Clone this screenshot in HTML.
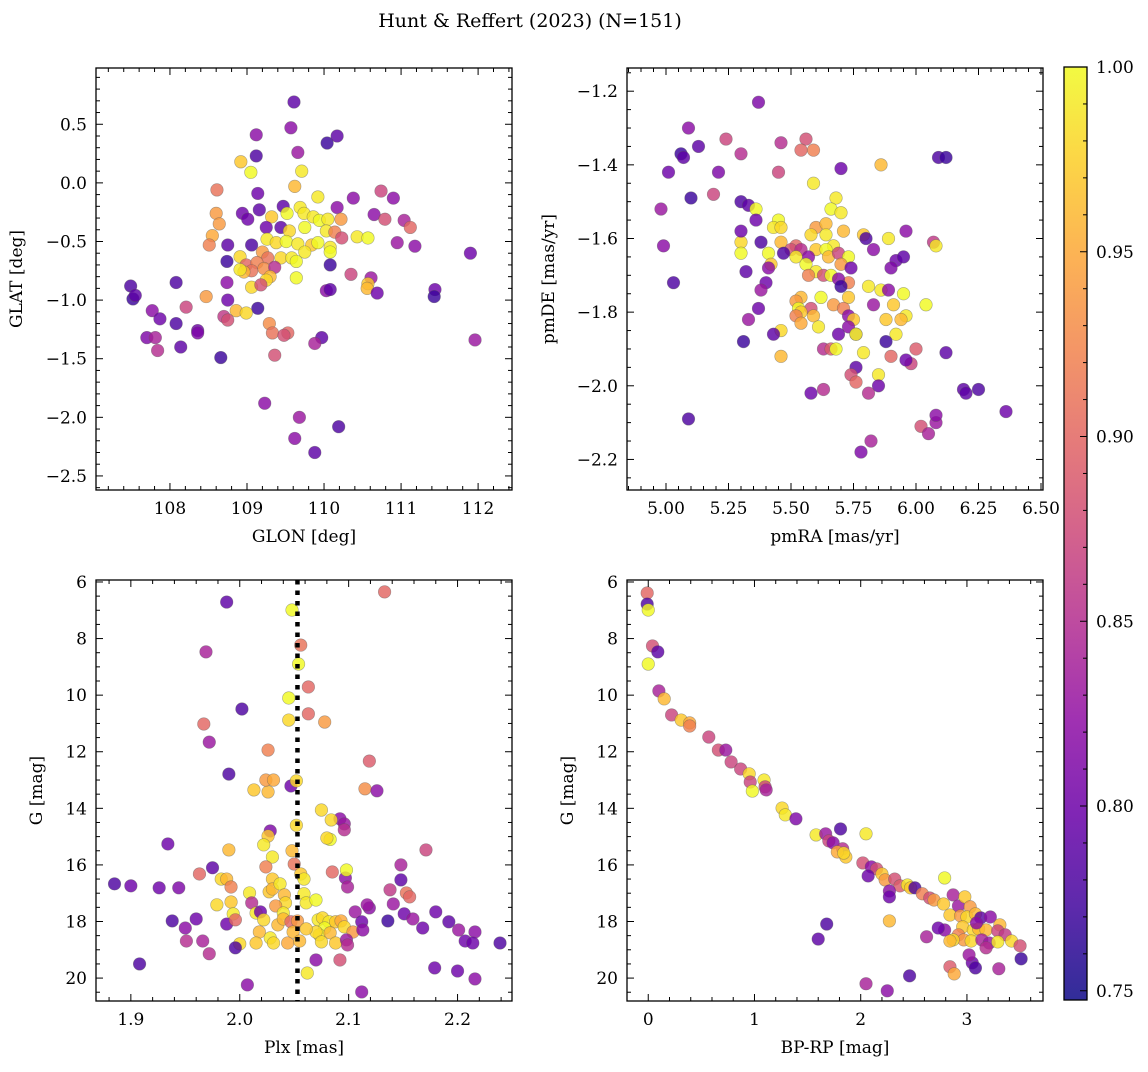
<!DOCTYPE html>
<html><head><meta charset="utf-8"><style>
body{margin:0;background:#fff}
svg text{font-family:"DejaVu Serif","Liberation Serif",serif;fill:#000}
</style></head><body>
<svg id="chart" width="1148" height="1067" xmlns="http://www.w3.org/2000/svg">
<text x="530" y="27" font-size="19" text-anchor="middle">Hunt &amp; Reffert (2023) (N=151)</text>
</svg>
<script>
// Panel 1: GLON vs GLAT
const glonVals=[109.61,109.12,109.57,109.66,110.04,110.17,108.92,109.12,109.71,108.61,109.05,110.74,109.62,109.14,109.92,110.38,110.9,110.17,109.69,109.47,109.74,109.52,109.16,108.94,108.6,109.32,109.01,109.86,109.94,110.05,110.22,110.65,110.79,111.04,111.12,108.64,109.25,109.44,109.55,109.75,110.03,110.14,110.43,110.57,108.55,108.51,108.75,109.06,109.26,109.38,109.51,109.66,109.84,109.92,110.08,110.23,110.95,111.18,109.75,110.08,109.2,108.91,109.27,109.44,109.58,109.64,108.74,108.99,109.13,109.22,109.36,109.06,108.96,108.91,110.08,110.35,110.61,109.64,109.3,109.25,108.74,108.08,110.57,110.56,109.06,109.18,107.49,107.52,107.55,108.47,110.03,110.08,110.69,111.44,111.43,108.75,109.14,108.21,108.86,108.99,107.77,108.7,108.75,107.87,108.08,109.29,109.33,108.36,108.36,109.53,109.48,107.7,107.81,109.97,109.88,108.14,107.84,109.36,108.66,111.96,111.9,109.23,109.68,109.62,110.19,109.88];
const glatVals=[0.69,0.41,0.47,0.26,0.34,0.40,0.18,0.23,0.10,-0.06,0.09,-0.07,-0.03,-0.09,-0.12,-0.13,-0.13,-0.21,-0.21,-0.2,-0.26,-0.26,-0.23,-0.26,-0.26,-0.29,-0.31,-0.29,-0.32,-0.31,-0.31,-0.27,-0.31,-0.32,-0.38,-0.35,-0.38,-0.38,-0.41,-0.38,-0.41,-0.42,-0.46,-0.47,-0.45,-0.53,-0.53,-0.53,-0.48,-0.51,-0.5,-0.52,-0.53,-0.51,-0.55,-0.47,-0.51,-0.54,-0.59,-0.59,-0.59,-0.63,-0.64,-0.64,-0.64,-0.67,-0.67,-0.7,-0.68,-0.73,-0.72,-0.75,-0.76,-0.74,-0.7,-0.78,-0.81,-0.81,-0.8,-0.83,-0.85,-0.85,-0.86,-0.9,-0.89,-0.87,-0.88,-0.99,-0.96,-0.97,-0.92,-0.91,-0.94,-0.91,-0.97,-1.0,-1.07,-1.06,-1.09,-1.11,-1.09,-1.14,-1.17,-1.16,-1.2,-1.2,-1.28,-1.26,-1.28,-1.28,-1.3,-1.32,-1.32,-1.32,-1.37,-1.4,-1.43,-1.47,-1.49,-1.34,-0.6,-1.88,-2.0,-2.18,-2.08,-2.3];
const prob1=[0.79,0.82,0.82,0.83,0.77,0.79,0.97,0.78,0.99,0.91,1.0,0.87,0.96,0.8,0.99,0.82,0.82,0.82,0.99,0.79,0.99,1.0,0.79,0.8,0.94,0.97,0.8,0.99,1.0,0.99,0.94,0.82,0.88,0.84,0.9,0.94,0.8,0.79,0.98,1.0,0.99,0.92,0.99,1.0,0.95,0.92,0.79,0.78,0.99,0.98,1.0,0.99,0.97,1.0,0.99,0.88,0.83,0.82,0.99,1.0,0.94,0.98,0.91,0.98,0.99,1.0,0.77,0.9,0.92,0.93,0.85,0.91,0.96,0.99,0.77,0.87,0.83,1.0,0.96,0.98,0.82,0.78,0.97,0.96,0.98,0.88,0.78,0.77,0.79,0.94,0.82,0.79,0.8,0.8,0.77,0.8,0.77,0.87,0.96,0.98,0.82,0.86,0.88,0.8,0.78,0.93,0.91,0.8,0.81,0.9,0.88,0.81,0.84,0.79,0.84,0.79,0.85,0.88,0.77,0.83,0.8,0.82,0.83,0.82,0.78,0.79];
// Panel 2: pmRA vs pmDE
const pmraVals=[5.37,5.09,5.06,5.07,5.13,5.24,5.3,5.56,5.54,5.01,5.21,5.46,5.45,5.59,5.86,5.7,5.1,5.19,6.09,6.12,4.98,5.3,5.33,5.36,5.68,5.66,5.7,5.59,5.36,4.99,5.45,5.43,5.46,5.46,5.38,5.3,5.3,5.6,5.64,5.58,5.64,5.71,5.79,5.89,5.8,5.96,6.07,6.08,5.52,5.5,5.54,5.6,5.67,5.64,5.83,5.47,5.41,5.3,5.57,5.65,5.69,5.52,5.73,5.92,5.95,5.7,5.56,5.42,5.41,5.6,5.74,5.9,5.57,5.63,5.66,5.32,5.03,5.73,5.69,5.4,5.86,5.89,5.81,5.7,5.38,5.73,5.62,5.54,5.52,5.91,5.83,5.95,6.04,5.37,5.67,5.58,5.53,5.54,5.71,5.59,5.52,5.96,5.73,5.88,5.54,5.94,5.75,5.33,5.61,5.73,5.46,5.31,5.43,5.76,5.92,5.69,5.76,5.63,5.66,5.68,5.88,5.9,5.79,5.46,6.0,5.98,6.12,5.76,5.96,5.74,5.76,5.85,5.85,5.63,5.58,5.81,6.19,6.25,6.2,5.09,6.36,6.08,6.02,6.05,6.08,5.82,5.78];
const pmdeVals=[-1.23,-1.3,-1.37,-1.38,-1.35,-1.33,-1.37,-1.33,-1.36,-1.42,-1.42,-1.34,-1.42,-1.36,-1.4,-1.41,-1.49,-1.48,-1.38,-1.38,-1.52,-1.5,-1.51,-1.52,-1.49,-1.52,-1.53,-1.45,-1.55,-1.62,-1.55,-1.57,-1.57,-1.61,-1.61,-1.61,-1.58,-1.57,-1.56,-1.59,-1.59,-1.58,-1.59,-1.6,-1.6,-1.58,-1.61,-1.62,-1.62,-1.63,-1.63,-1.63,-1.62,-1.63,-1.63,-1.64,-1.64,-1.64,-1.65,-1.65,-1.64,-1.65,-1.65,-1.66,-1.65,-1.67,-1.67,-1.67,-1.68,-1.69,-1.68,-1.68,-1.7,-1.7,-1.7,-1.69,-1.72,-1.72,-1.71,-1.72,-1.74,-1.74,-1.73,-1.73,-1.74,-1.76,-1.76,-1.76,-1.77,-1.78,-1.78,-1.75,-1.78,-1.79,-1.78,-1.79,-1.79,-1.8,-1.79,-1.81,-1.81,-1.81,-1.81,-1.82,-1.83,-1.82,-1.82,-1.82,-1.84,-1.84,-1.85,-1.88,-1.86,-1.86,-1.86,-1.86,-1.86,-1.9,-1.9,-1.9,-1.88,-1.92,-1.91,-1.92,-1.9,-1.94,-1.91,-1.95,-1.93,-1.97,-1.99,-1.97,-2.0,-2.01,-2.02,-2.02,-2.01,-2.01,-2.02,-2.09,-2.07,-2.1,-2.11,-2.13,-2.08,-2.15,-2.18];
const prob2=[0.81,0.82,0.77,0.79,0.79,0.87,0.85,0.88,0.9,0.8,0.81,0.85,0.87,0.92,0.96,0.8,0.77,0.87,0.78,0.77,0.83,0.78,0.79,1.0,0.99,1.0,0.99,0.99,0.8,0.82,1.0,0.99,0.98,0.96,0.78,0.98,0.8,0.94,0.96,0.98,0.99,0.96,0.97,0.99,0.78,0.82,0.86,0.99,0.9,0.88,0.85,0.97,0.99,1.0,0.82,0.78,1.0,1.0,0.82,0.96,0.87,0.99,1.0,0.8,0.79,0.94,1.0,0.97,0.82,0.99,0.8,0.81,0.92,0.88,1.0,0.79,0.78,0.92,0.82,0.8,0.99,0.82,0.99,0.77,0.83,0.97,1.0,0.96,0.94,0.97,0.83,1.0,1.0,0.8,0.94,0.88,1.0,0.97,0.92,0.96,0.92,0.99,0.82,0.97,0.95,0.96,0.97,0.83,0.99,0.82,0.98,0.77,0.79,0.84,0.99,0.8,1.0,0.85,0.89,1.0,0.77,0.9,0.99,0.96,0.89,0.87,0.79,0.79,0.8,0.88,0.9,0.99,0.8,0.85,0.8,0.85,0.79,0.78,0.79,0.78,0.8,0.83,0.88,0.84,0.82,0.84,0.81];
// Panel 3: Plx vs G
const plxVals=[2.048,2.133,2.056,1.988,1.969,2.054,2.002,1.967,2.045,2.045,2.063,2.063,2.078,1.972,1.99,2.026,2.119,2.013,2.026,2.024,2.031,2.047,2.052,2.115,2.126,2.075,2.092,2.096,2.096,2.084,1.934,2.028,2.026,2.022,2.052,2.048,2.083,2.08,1.99,2.03,2.05,2.024,1.975,2.148,2.171,2.148,2.03,1.963,1.983,1.988,1.992,2.056,2.059,2.097,2.099,2.085,2.098,2.009,2.011,2.027,2.03,2.037,2.041,2.042,2.033,2.04,2.015,2.059,2.061,2.07,1.9,1.926,1.944,2.138,2.153,2.156,2.106,2.119,1.979,1.992,1.994,1.938,1.96,1.95,1.988,1.996,2.019,2.022,2.035,2.04,2.047,2.053,2.072,2.076,2.082,2.088,2.093,2.078,2.073,2.083,2.07,2.061,2.096,2.104,2.112,2.113,2.136,2.151,2.159,2.141,2.117,2.18,2.192,2.168,2.201,2.207,2.216,2.214,2.239,2.018,2.028,2.015,2.031,2.0,2.044,2.049,2.055,2.075,2.088,2.098,2.099,1.996,1.972,1.966,1.951,1.908,2.062,2.07,2.092,2.007,2.112,2.179,2.2,2.216,1.885];
const gPlx=[6.99,6.35,8.23,6.71,8.47,8.9,10.49,11.02,10.88,10.1,9.71,10.66,10.95,11.66,12.79,11.94,12.33,13.35,13.42,13.0,13.0,13.21,13.03,13.31,13.38,14.06,14.37,14.55,14.76,14.41,15.26,14.8,14.98,15.29,14.6,15.5,15.1,15.05,15.47,15.72,15.97,16.07,16.1,16.0,15.47,16.53,16.5,16.32,16.5,16.5,16.78,16.32,16.5,16.46,16.78,16.25,16.18,16.99,17.34,16.95,16.85,16.67,17.06,17.34,17.45,17.7,17.7,17.02,17.34,17.24,16.74,16.81,16.81,16.88,16.99,17.13,17.66,17.52,17.41,17.31,17.73,17.98,17.91,18.23,18.09,17.94,17.66,17.94,18.12,17.91,18.01,17.98,17.94,17.87,18.01,18.01,17.98,18.23,18.47,18.4,18.37,18.26,18.19,18.37,18.01,18.3,17.98,17.73,17.91,17.38,17.41,17.66,18.01,18.23,18.3,18.69,18.37,18.76,18.76,18.37,18.58,18.76,18.76,18.79,18.76,18.37,18.69,18.72,18.76,18.65,18.83,18.93,19.14,18.69,18.69,19.5,19.82,19.36,19.36,20.24,20.49,19.64,19.75,20.03,16.67];
const prob3=[1.0,0.9,0.91,0.79,0.84,1.0,0.78,0.9,0.98,1.0,0.9,0.9,0.94,0.83,0.78,0.92,0.89,0.97,0.96,0.94,0.95,0.8,0.98,0.93,0.82,0.98,0.82,0.83,0.85,0.98,0.8,0.81,0.97,0.99,0.98,0.96,1.0,0.98,0.96,0.99,0.91,0.92,0.79,0.84,0.87,0.79,0.97,0.9,0.98,0.96,0.92,0.97,0.99,0.82,0.84,0.9,1.0,0.99,0.85,0.97,0.96,0.99,0.96,0.98,0.94,0.99,0.99,0.99,0.99,1.0,0.8,0.8,0.81,0.86,0.91,0.9,0.83,0.82,0.98,0.97,0.99,0.78,0.8,0.82,0.8,0.9,0.8,0.98,0.96,0.96,0.9,0.94,0.99,0.98,0.99,0.97,0.95,1.0,0.99,0.96,0.98,0.97,0.98,0.94,0.8,0.82,0.77,0.8,0.83,0.83,0.83,0.8,0.79,0.8,0.83,0.8,0.82,0.8,0.78,0.96,0.99,0.97,0.98,0.98,0.95,0.96,0.96,0.98,0.97,0.83,0.85,0.78,0.85,0.84,0.85,0.78,0.99,0.82,0.88,0.82,0.82,0.8,0.8,0.82,0.78];
const plxRef=2.053;
// Panel 4: BP-RP vs G
const bprpVals=[-0.01,-0.01,0.0,0.04,0.09,0.0,0.1,0.15,0.22,0.31,0.39,0.39,0.57,0.66,0.73,0.78,0.87,0.95,0.96,0.98,1.09,1.1,1.11,1.26,1.29,1.39,1.58,1.67,1.81,2.05,1.7,1.74,1.83,1.86,1.78,1.84,2.02,2.1,2.15,2.2,2.23,2.32,2.37,2.44,2.47,2.51,2.58,2.65,2.69,2.78,2.79,2.87,2.92,2.98,3.03,2.84,2.94,3.0,3.08,3.13,3.22,3.31,2.96,3.06,3.11,3.18,3.29,3.36,3.42,3.5,2.92,2.97,3.04,3.14,3.21,3.29,2.87,2.79,2.73,3.09,3.51,3.05,2.84,3.3,2.88,3.08,3.02,3.18,2.27,2.27,2.27,2.07,2.62,1.6,1.68,2.05,2.25,2.46,2.84];
const gBprp=[6.39,6.78,6.99,8.26,8.47,8.9,9.85,10.13,10.7,10.88,10.98,11.09,11.48,11.94,11.94,12.36,12.61,12.78,13.07,13.39,13.0,13.24,13.35,13.99,14.23,14.37,14.94,14.9,14.73,14.9,15.15,15.22,15.43,15.72,15.54,15.58,15.93,16.07,16.14,16.32,16.53,16.5,16.74,16.71,16.81,16.81,17.02,17.17,17.24,17.38,16.46,17.06,17.45,17.13,17.48,17.77,17.8,17.84,17.73,17.87,17.84,18.12,18.19,18.3,18.26,18.3,18.33,18.47,18.69,18.86,18.47,18.65,18.69,18.65,18.76,18.72,18.65,18.3,18.23,18.05,19.32,19.46,19.6,19.67,19.85,19.64,19.18,18.93,16.92,17.13,17.98,16.39,18.54,18.62,18.09,20.2,20.45,19.92,18.69];
const prob4=[0.9,0.78,1.0,0.88,0.79,1.0,0.84,0.96,0.87,0.97,0.95,0.92,0.87,0.88,0.83,0.87,0.87,0.98,0.87,1.0,0.99,0.87,0.84,0.98,0.99,0.81,0.99,0.83,0.78,0.99,0.87,0.82,0.85,0.97,0.95,0.98,0.88,0.82,0.88,0.97,0.94,0.88,0.89,0.99,0.97,0.78,0.92,0.88,0.94,0.97,1.0,0.84,0.83,0.97,0.94,0.97,0.94,0.98,0.96,0.79,0.82,0.96,0.97,0.98,0.96,0.96,0.87,0.86,0.98,0.88,0.92,0.94,0.98,0.84,0.83,0.99,0.98,0.82,0.8,0.82,0.77,0.8,0.89,0.84,0.95,0.78,0.83,0.85,0.82,0.8,0.96,0.8,0.84,0.79,0.78,0.84,0.82,0.78,0.96];
const cbTicks=[0.75,0.80,0.85,0.90,0.95,1.00];

const NS='http://www.w3.org/2000/svg';
const svg=document.getElementById('chart');
function mk(tag,attrs,parent){const e=document.createElementNS(NS,tag);for(const k in attrs)e.setAttribute(k,attrs[k]);(parent||svg).appendChild(e);return e;}
const stops=[[13,8,135],[65,4,157],[106,0,168],[143,13,164],[177,42,144],[204,71,120],[225,100,98],[242,132,75],[252,166,54],[252,206,37],[240,249,33]];
const CMIN=0.7475,CMAX=1.0;
function plasma(v){let t=(v-CMIN)/(CMAX-CMIN);t=Math.max(0,Math.min(1,t));const f=t*10,i=Math.min(9,Math.floor(f)),r=f-i;const a=stops[i],b=stops[i+1];return 'rgb('+a.map((c,k)=>Math.round(c+(b[k]-c)*r)).join(',')+')';}

function panel(o){
  const g=mk('g',{});
  
  
  const X=v=>o.x0+(v-o.xmin)/(o.xmax-o.xmin)*(o.x1-o.x0);
  const Y=o.invert?(v=>o.y0+(v-o.ymin)/(o.ymax-o.ymin)*(o.y1-o.y0)):(v=>o.y1-(v-o.ymin)/(o.ymax-o.ymin)*(o.y1-o.y0));
  for(let i=0;i<o.xs.length;i++){
    const c=mk('circle',{cx:X(o.xs[i]),cy:Y(o.ys[i]),r:6.3,fill:plasma(o.cs[i]),'fill-opacity':0.82,stroke:'rgba(90,90,90,0.5)','stroke-width':0.6},g);
    
    
  }
  if(o.vline!==undefined){
    const l=mk('line',{x1:X(o.vline),x2:X(o.vline),y1:o.y0,y2:o.y1,stroke:'#000','stroke-width':4.5,'stroke-dasharray':'4.5,6'},g);
    
    
  }
  const fr=mk('rect',{x:o.x0,y:o.y0,width:o.x1-o.x0,height:o.y1-o.y0,fill:'none',stroke:'#000','stroke-width':1.3},g);
  
  
  const eps=1e-9;
  const xmn=Math.ceil(o.xmin/o.xminor-eps);
  for(let k=xmn;k*o.xminor<=o.xmax+eps;k++){
    const v=k*o.xminor,px=X(v);
    const major=Math.abs(v/o.xmajor-Math.round(v/o.xmajor))<1e-6;
    const L=major?7:4;
    mk('line',{x1:px,x2:px,y1:o.y1,y2:o.y1-L,stroke:'#000','stroke-width':1},g);
    mk('line',{x1:px,x2:px,y1:o.y0,y2:o.y0+L,stroke:'#000','stroke-width':1},g);
    if(major){
      const t=mk('text',{x:px,y:o.y1+24,'font-size':17,'text-anchor':'middle'},g);
      t.textContent=o.xfmt(v);
      
      
    }
  }
  const ymn=Math.ceil(o.ymin/o.yminor-eps);
  for(let k=ymn;k*o.yminor<=o.ymax+eps;k++){
    const v=k*o.yminor,py=Y(v);
    const major=Math.abs(v/o.ymajor-Math.round(v/o.ymajor))<1e-6;
    const L=major?7:4;
    mk('line',{x1:o.x0,x2:o.x0+L,y1:py,y2:py,stroke:'#000','stroke-width':1},g);
    mk('line',{x1:o.x1,x2:o.x1-L,y1:py,y2:py,stroke:'#000','stroke-width':1},g);
    if(major){
      const t=mk('text',{x:o.x0-9,y:py+6,'font-size':17,'text-anchor':'end'},g);
      t.textContent=o.yfmt(v);
      
      
    }
  }
  const xl=mk('text',{x:(o.x0+o.x1)/2,y:o.y1+52,'font-size':17,'text-anchor':'middle'},g);
  xl.textContent=o.xlabel;
  
  
  const yx=o.ylabx,yy=(o.y0+o.y1)/2;
  const yl=mk('text',{x:yx,y:yy,'font-size':17,'text-anchor':'middle',transform:'rotate(-90 '+yx+' '+yy+')'},g);
  yl.textContent=o.ylabel;
  
  
}
const minus=s=>s.replace('-','\u2212');
panel({name:'glon-glat-panel',xs:glonVals,ys:glatVals,cs:prob1,x0:96,x1:512,y0:68,y1:490,xmin:107.04,xmax:112.44,ymin:-2.62,ymax:0.98,xmajor:1,xminor:0.2,ymajor:0.5,yminor:0.1,xfmt:v=>v.toFixed(0),yfmt:v=>minus(v.toFixed(1)),xlabel:'GLON [deg]',ylabel:'GLAT [deg]',ylabx:22});
panel({name:'pmra-pmde-panel',xs:pmraVals,ys:pmdeVals,cs:prob2,x0:627,x1:1043,y0:68,y1:490,xmin:4.844,xmax:6.508,ymin:-2.283,ymax:-1.137,xmajor:0.25,xminor:0.05,ymajor:0.2,yminor:0.05,xfmt:v=>v.toFixed(2),yfmt:v=>minus(v.toFixed(1)),xlabel:'pmRA [mas/yr]',ylabel:'pmDE [mas/yr]',ylabx:554});
panel({name:'plx-g-panel',xs:plxVals,ys:gPlx,cs:prob3,vline:plxRef,invert:true,x0:96,x1:512,y0:580,y1:1001,xmin:1.868,xmax:2.250,ymin:5.93,ymax:20.81,xmajor:0.1,xminor:0.02,ymajor:2,yminor:0.5,xfmt:v=>v.toFixed(1),yfmt:v=>v.toFixed(0),xlabel:'Plx [mas]',ylabel:'G [mag]',ylabx:42});
panel({name:'bprp-g-panel',xs:bprpVals,ys:gBprp,cs:prob4,invert:true,x0:627,x1:1043,y0:580,y1:1001,xmin:-0.2,xmax:3.716,ymin:5.93,ymax:20.81,xmajor:1,xminor:0.2,ymajor:2,yminor:0.5,xfmt:v=>v.toFixed(0),yfmt:v=>v.toFixed(0),xlabel:'BP-RP [mag]',ylabel:'G [mag]',ylabx:573});

const cb=mk('g',{});


const defs=mk('defs',{},cb);
const grad=mk('linearGradient',{id:'pl',x1:0,y1:1,x2:0,y2:0},defs);
for(let i=0;i<=10;i++)mk('stop',{offset:i/10,'stop-color':'rgb('+stops[i].join(',')+')','stop-opacity':0.85},grad);
const CB0=67,CB1=1000,CBX=1064,CBW=23;
mk('rect',{x:CBX,y:CB0,width:CBW,height:CB1-CB0,fill:'url(#pl)',stroke:'#000','stroke-width':1.3},cb);
const CY=v=>CB1-(v-CMIN)/(CMAX-CMIN)*(CB1-CB0);
for(let k=75;k<=100;k++){const v=k/100,py=CY(v),major=k%5===0;
  mk('line',{x1:CBX+CBW,x2:CBX+CBW-(major?7:4),y1:py,y2:py,stroke:'#000','stroke-width':1},cb);}
cbTicks.forEach(v=>{const t=mk('text',{x:1096,y:CY(v)+6,'font-size':17},cb);t.textContent=v.toFixed(2);
  
  });
</script>
</body></html>
